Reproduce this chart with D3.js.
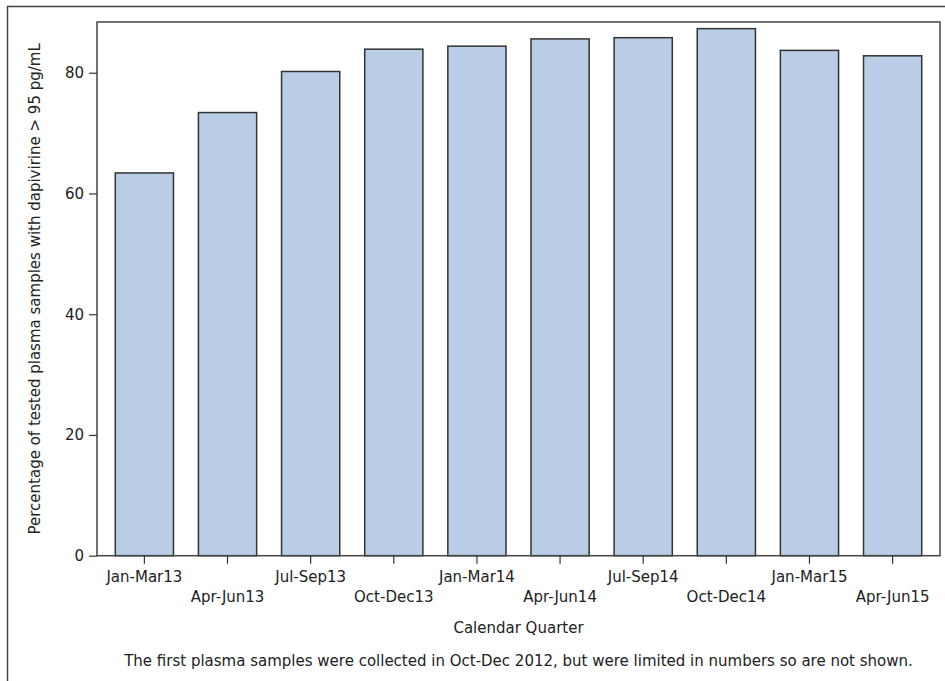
<!DOCTYPE html>
<html>
<head>
<meta charset="utf-8">
<script src="https://cdn.jsdelivr.net/npm/d3@7"></script>
<style>
  html, body { margin: 0; padding: 0; background: #fff; }
  svg { display: block; }
  text { font-family: "DejaVu Sans", sans-serif; fill: #222; }
</style>
</head>
<body>
<script>
const categories = ["Jan-Mar13","Apr-Jun13","Jul-Sep13","Oct-Dec13","Jan-Mar14","Apr-Jun14","Jul-Sep14","Oct-Dec14","Jan-Mar15","Apr-Jun15"];
const percentages = [63.4, 73.4, 80.2, 83.9, 84.4, 85.6, 85.8, 87.3, 83.7, 82.8];
const yTicks = [0, 20, 40, 60, 80];
const yTitle = "Percentage of tested plasma samples with dapivirine > 95 pg/mL";
const xTitle = "Calendar Quarter";
const footnote = "The first plasma samples were collected in Oct-Dec 2012, but were limited in numbers so are not shown.";

const W = 945, H = 681;
const pL = 97, pR = 940, pT = 22, pB = 555.7;
const fs = "15px";

const svg = d3.select("body").append("svg").attr("width", W).attr("height", H);

// outer frame (left and top visible)
svg.append("path")
  .attr("d", `M7.5,${H} L7.5,6.5 L${W},6.5`)
  .attr("fill", "none").attr("stroke", "#444").attr("stroke-width", 1.5);

const x = d3.scaleBand().domain(categories).range([pL, pR]).paddingInner(0.3).paddingOuter(0.22);
const y = d3.scaleLinear().domain([0, 88.4]).range([pB, pT]);

// bars
svg.append("g").selectAll("rect").data(categories).join("rect")
  .attr("x", d => x(d))
  .attr("y", (d, i) => y(percentages[i]))
  .attr("width", x.bandwidth())
  .attr("height", (d, i) => y(0) - y(percentages[i]))
  .attr("fill", "#b9cee6")
  .attr("stroke", "#333").attr("stroke-width", 1.5);

// plot frame
svg.append("rect").attr("x", pL).attr("y", pT).attr("width", pR - pL).attr("height", pB - pT)
  .attr("fill", "none").attr("stroke", "#444").attr("stroke-width", 1.5);

// y axis
const yAxis = svg.append("g").attr("transform", `translate(${pL},0)`)
  .call(d3.axisLeft(y).tickValues(yTicks).tickSize(8).tickPadding(5).tickFormat(d3.format("d")));
yAxis.select(".domain").remove();
yAxis.selectAll("line").attr("stroke", "#333").attr("stroke-width", 1.2);
yAxis.selectAll("text").style("font-size", fs).style("font-family", "DejaVu Sans").attr("fill", "#222");

// x axis
const xAxis = svg.append("g").attr("transform", `translate(0,${pB})`)
  .call(d3.axisBottom(x).tickSize(8).tickPadding(8));
xAxis.select(".domain").remove();
xAxis.selectAll("line").attr("stroke", "#333").attr("stroke-width", 1.2);
xAxis.selectAll("text").style("font-size", fs).style("font-family", "DejaVu Sans").attr("fill", "#222")
  .attr("dy", (d, i) => i % 2 === 0 ? "0.71em" : "2.05em");

// titles
svg.append("text").attr("transform", `translate(35,${(pT + pB) / 2}) rotate(-90)`)
  .attr("text-anchor", "middle").attr("dominant-baseline", "central")
  .style("font-size", fs).text(yTitle);

svg.append("text").attr("x", (pL + pR) / 2).attr("y", 628)
  .attr("text-anchor", "middle").attr("dominant-baseline", "central")
  .style("font-size", fs).text(xTitle);

svg.append("text").attr("x", (pL + pR) / 2).attr("y", 661)
  .attr("text-anchor", "middle").attr("dominant-baseline", "central")
  .style("font-size", fs).text(footnote);
</script>
</body>
</html>
